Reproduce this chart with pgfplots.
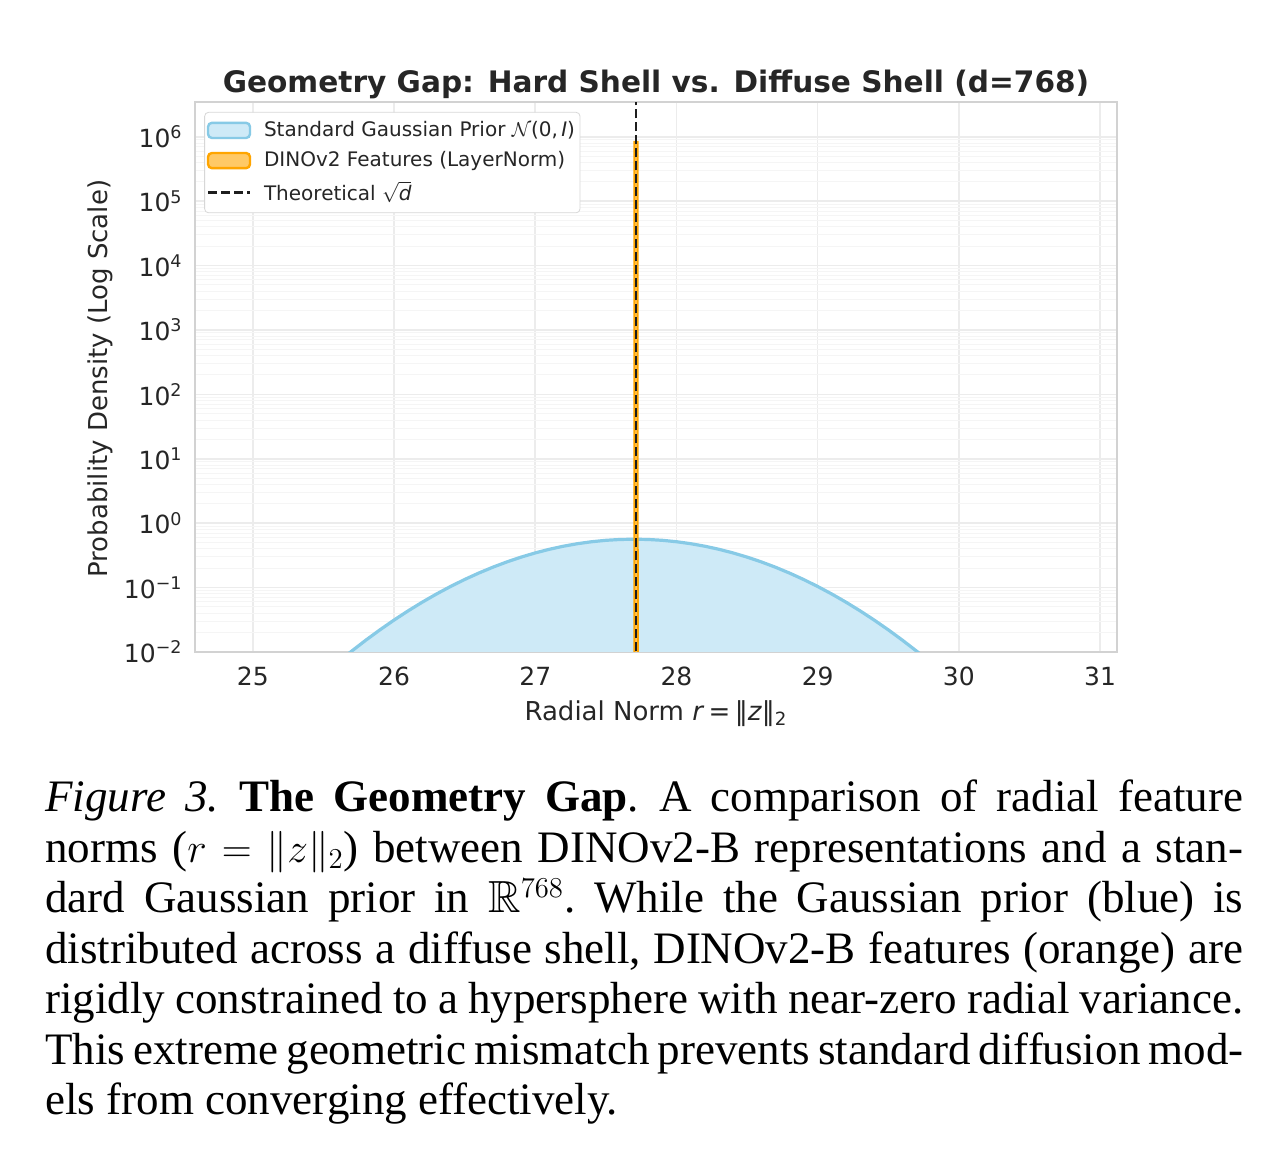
\documentclass[border=0pt]{standalone}
\usepackage{fontspec}
\usepackage{amssymb}
\usepackage{pgfplots}
\pgfplotsset{compat=1.18}
\setmainfont{DejaVu Sans}
\newfontfamily\capfont{Liberation Serif}

\definecolor{skyfill}{RGB}{206,234,247}
\definecolor{skyedge}{RGB}{135,202,230}
\definecolor{orfill}{RGB}{255,201,102}
\definecolor{oredge}{RGB}{255,165,0}
\definecolor{txt}{RGB}{38,38,38}

\pgfplotsset{
    boxlegend/.style={legend image code/.code={%
        \draw[##1, line width=1.2pt] (0pt,-3.8pt) rectangle (21pt,3.8pt);
        \path[draw=none, fill=none] (0pt,0pt) -- (26.5pt,0pt);}},
    dashlegend/.style={legend image code/.code={%
        \draw[##1] (0pt,0pt) -- (21pt,0pt);
        \path[draw=none, fill=none] (0pt,0pt) -- (26.5pt,0pt);}},
}

\begin{document}
\begin{tikzpicture}
\path[use as bounding box] (0,0) rectangle (641pt,582pt);

\begin{axis}[
    at={(97.5pt,256pt)}, anchor=south west,
    width=461pt, height=275pt, scale only axis,
    ymode=log,
    xmin=24.59, xmax=31.12,
    ymin=1e-2, ymax=3.467e6,
    xtick={25,26,27,28,29,30,31},
    xticklabels={25,26,27,28,29,30,31},
    ytick={1e-2,1e-1,1,1e1,1e2,1e3,1e4,1e5,1e6},
    yticklabels={10\textsuperscript{−2},10\textsuperscript{−1},10\textsuperscript{0},10\textsuperscript{1},10\textsuperscript{2},10\textsuperscript{3},10\textsuperscript{4},10\textsuperscript{5},10\textsuperscript{6}},
    grid=both,
    major grid style={draw={rgb,255:red,236;green,236;blue,236}, line width=0.8pt},
    minor grid style={draw={rgb,255:red,245;green,245;blue,245}, line width=0.5pt},
    major tick length=0pt, minor tick length=0pt,
    axis line style={draw={rgb,255:red,210;green,210;blue,210}, line width=0.9pt},
    tick label style={font=\fontsize{12.5}{14}\selectfont, text=txt},
    xticklabel style={anchor=base, yshift=-17pt},
    yticklabel style={anchor=east, inner sep=0pt, xshift=-6pt},
    title={Geometry Gap: Hard Shell vs. Diffuse Shell (d=768)},
    title style={font=\bfseries\fontsize{14.8}{17}\selectfont, text=txt, at={(0.5,1)}, anchor=base, yshift=-1pt},
    xlabel={Radial Norm \textit{r}\,=\,‖\textit{z}‖\textsubscript{2}},
    xlabel style={font=\fontsize{13}{15}\selectfont, text=txt, at={(axis description cs:0.5,0)}, anchor=base, yshift=-34pt},
    ylabel={Probability Density (Log Scale)},
    ylabel style={font=\fontsize{13}{15}\selectfont, text=txt, at={(axis description cs:-0.103,0.497)}, anchor=center},
    legend style={at={(axis description cs:0.01,0.982)}, anchor=north west,
        draw={rgb,255:red,215;green,215;blue,215}, rounded corners=2pt,
        font=\fontsize{10}{11}\selectfont, text=txt,
        inner xsep=1pt, inner ysep=2.5pt, row sep=2pt,
        nodes={inner xsep=1.5pt}},
    legend cell align=left,
]

% Standard Gaussian prior, KDE of the radial norm
\addplot[fill=skyfill, draw=skyedge, line width=1.6pt, boxlegend]
coordinates {
(25.6,0.00686) (25.7,0.01034) (25.8,0.01527) (25.9,0.02210) (26.0,0.03136)
(26.1,0.04362) (26.2,0.05948) (26.3,0.07951) (26.4,0.1041) (26.5,0.1337)
(26.6,0.1683) (26.7,0.2076) (26.8,0.2511) (26.9,0.2976) (27.0,0.3457)
(27.1,0.3937) (27.2,0.4395) (27.3,0.4809) (27.4,0.5157) (27.5,0.5422)
(27.6,0.5587) (27.7,0.5643) (27.8,0.5587) (27.9,0.5422) (28.0,0.5157)
(28.1,0.4809) (28.2,0.4395) (28.3,0.3937) (28.4,0.3457) (28.5,0.2976)
(28.6,0.2511) (28.7,0.2076) (28.8,0.1683) (28.9,0.1337) (29.0,0.1041)
(29.1,0.07951) (29.2,0.05948) (29.3,0.04362) (29.4,0.03136) (29.5,0.02210)
(29.6,0.01527) (29.7,0.01034) (29.8,0.00686)
};
\addlegendentry{Standard Gaussian Prior $\mathcal{N}$(0,\,\textit{I})}

% DINOv2 features: very narrow spike
\addplot[fill=orfill, draw=oredge, line width=1pt, boxlegend]
coordinates {
(27.701,1e-3) (27.702,8.3e5) (27.725,8.3e5) (27.726,1e-3)
};
\addlegendentry{DINOv2 Features (LayerNorm)}

% theoretical sqrt(d)
\addplot[draw={rgb,255:red,30;green,30;blue,30}, line width=1.4pt, dash pattern=on 4.5pt off 2pt, dashlegend]
coordinates {(27.713,1e-3) (27.713,1e7)};
\addlegendentry{Theoretical $\sqrt{\textit{d}}$}

\end{axis}

\node[anchor=base west, inner sep=0pt] at (22.5pt,176pt) {%
\parbox[t]{599pt}{\capfont\fontsize{22.5}{25.25}\selectfont\frenchspacing
\spaceskip=0.25em plus 0.25em minus 0.1em
\textit{Figure 3.}\hspace{0.45em}\textbf{The Geometry Gap}.\hspace{0.45em}A comparison of radial feature\linebreak
norms ($r = \|z\|_2$) between DINOv2-B representations and a stan-\linebreak
dard Gaussian prior in $\mathbb{R}^{768}$. While the Gaussian prior (blue) is\linebreak
distributed across a diffuse shell, DINOv2-B features (orange) are\linebreak
rigidly constrained to a hypersphere with near-zero radial variance.\linebreak
This extreme geometric mismatch prevents standard diffusion mod-\linebreak
els from converging effectively.}};
\end{tikzpicture}
\end{document}
